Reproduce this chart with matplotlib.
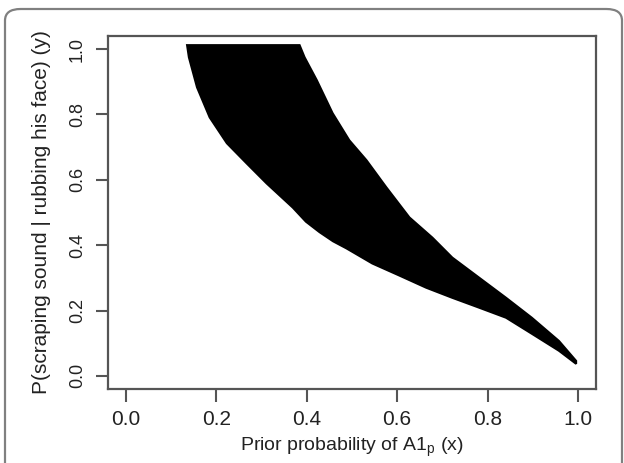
import numpy as np
import matplotlib.pyplot as plt
from matplotlib.patches import FancyBboxPatch

plt.rcParams['font.family'] = ['Liberation Sans', 'DejaVu Sans']

# Outline of the filled region
top_x = [0.135, 0.384]
top_y = [1.012, 1.012]

upper_x = [0.384, 0.395, 0.422, 0.457, 0.494, 0.532, 0.576, 0.627,
           0.678, 0.722, 0.781, 0.841, 0.898, 0.958, 0.996]
upper_y = [1.012, 0.975, 0.905, 0.804, 0.721, 0.660, 0.577, 0.485,
           0.423, 0.362, 0.301, 0.239, 0.178, 0.107, 0.046]

lower_x = [0.135, 0.139, 0.157, 0.185, 0.223, 0.267, 0.311, 0.369, 0.398,
           0.428, 0.458, 0.488, 0.545, 0.605, 0.664, 0.722, 0.781, 0.841,
           0.898, 0.958, 0.996]
lower_y = [1.012, 0.975, 0.883, 0.791, 0.712, 0.650, 0.589, 0.515, 0.472,
           0.440, 0.412, 0.390, 0.344, 0.307, 0.270, 0.239, 0.209, 0.178,
           0.129, 0.077, 0.037]

ticks = [0.0, 0.2, 0.4, 0.6, 0.8, 1.0]
tick_labels = ['0.0', '0.2', '0.4', '0.6', '0.8', '1.0']

fig = plt.figure(figsize=(6.24, 4.63), dpi=100)

# rounded outer frame
frame = FancyBboxPatch((5 / 624, -0.1), 617 / 624, 1 - 9 / 463 + 0.1,
                       boxstyle='round,pad=0,rounding_size=0.025',
                       transform=fig.transFigure, fill=False,
                       edgecolor='#808080', linewidth=1.6)
fig.patches.append(frame)

ax = fig.add_axes([108 / 624, 1 - 389 / 463, 488 / 624, 353 / 463])

poly_x = list(lower_x[::-1]) + top_x[1:] + upper_x[1:]
poly_y = list(lower_y[::-1]) + top_y[1:] + upper_y[1:]
ax.fill(poly_x, poly_y, color='black', edgecolor='black', linewidth=1.5)

ax.set_xlim(-0.04, 1.04)
ax.set_ylim(-0.04, 1.04)
ax.set_xticks(ticks)
ax.set_xticklabels(tick_labels)
ax.set_yticks(ticks)
ax.set_yticklabels(tick_labels, rotation=90, va='center')

for s in ax.spines.values():
    s.set_color('#555555')
    s.set_linewidth(1.6)
ax.tick_params(direction='out', length=9, width=1.5, color='#555555',
               labelcolor='#222222')
ax.tick_params(axis='x', labelsize=15, pad=6)
ax.tick_params(axis='y', labelsize=13, pad=7)

ax.set_xlabel(r'Prior probability of A1$_\mathregular{p}$ (x)', fontsize=14,
              color='#222222')
ax.set_ylabel('P(scraping sound | rubbing his face) (y)', fontsize=15,
              color='#222222')
ax.xaxis.set_label_coords(0.5, -0.133)
ax.yaxis.set_label_coords(-0.117, 0.5)

fig.savefig('out.png', dpi=100)
